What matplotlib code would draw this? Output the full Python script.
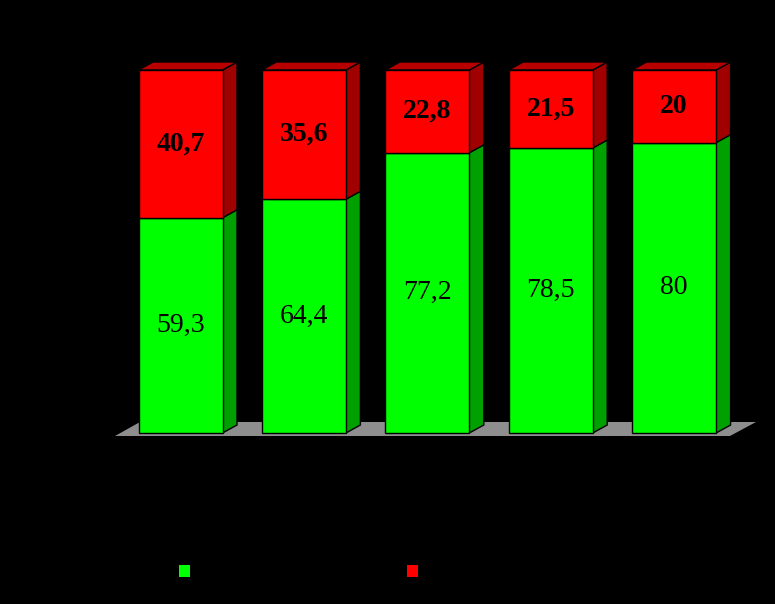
import numpy as np
import matplotlib.pyplot as plt
from matplotlib.patches import Polygon, Patch

plt.rcParams['font.family'] = ['Liberation Serif', 'DejaVu Serif']

# values per bar (percent)
green_vals = [59.3, 64.4, 77.2, 78.5, 80]
red_vals = [40.7, 35.6, 22.8, 21.5, 20]
green_txt = ['59,3', '64,4', '77,2', '78,5', '80']
red_txt = ['40,7', '35,6', '22,8', '21,5', '20']

GREEN = '#00FF00'
GREEN_SIDE = '#00A000'
RED = '#FF0000'
RED_SIDE = '#A00000'
RED_TOP = '#B80000'
FLOOR = '#8E8E8E'

W, H = 775, 604
fig = plt.figure(figsize=(W / 100, H / 100), dpi=100)
fig.patch.set_facecolor('black')
ax = fig.add_axes([0, 0, 1, 1])
ax.set_facecolor('black')
ax.axis('off')

# pixel geometry -> data limits
px_x = 123.4          # px per category
px_y = 3.63           # px per percent
x0_px, y0_px = 180.5, 433
ax.set_xlim(-x0_px / px_x, (W - x0_px) / px_x)
ax.set_ylim(-(H - y0_px) / px_y, y0_px / px_y)

dx = 14.5 / px_x
dy = 8 / px_y
bw = 84 / px_x
lw = 1.0
x = np.arange(len(green_vals))

# floor
fl = [(115 - x0_px) / px_x, (730 - x0_px) / px_x, (756 - x0_px) / px_x, (140 - x0_px) / px_x]
fy = [-3 / px_y, -3 / px_y, 11 / px_y, 11 / px_y]
ax.add_patch(Polygon(list(zip(fl, fy)), closed=True, facecolor=FLOOR, edgecolor='none', zorder=1))

ax.bar(x, green_vals, width=bw, color=GREEN, edgecolor='black', linewidth=lw, zorder=3)
ax.bar(x, red_vals, width=bw, bottom=green_vals, color=RED, edgecolor='black', linewidth=lw, zorder=3)

for i in range(len(x)):
    xr = x[i] + bw / 2
    xl = x[i] - bw / 2
    g = green_vals[i]
    top = g + red_vals[i]
    ax.add_patch(Polygon([(xr, 0), (xr + dx, dy), (xr + dx, g + dy), (xr, g)],
                         facecolor=GREEN_SIDE, edgecolor='black', linewidth=lw, zorder=2))
    ax.add_patch(Polygon([(xr, g), (xr + dx, g + dy), (xr + dx, top + dy), (xr, top)],
                         facecolor=RED_SIDE, edgecolor='black', linewidth=lw, zorder=2))
    ax.add_patch(Polygon([(xl, top), (xl + dx, top + dy), (xr + dx, top + dy), (xr, top)],
                         facecolor=RED_TOP, edgecolor='black', linewidth=lw, zorder=2))
    ax.text(x[i], g / 2, green_txt[i], ha='center', va='center', fontsize=20, color='black', zorder=4)
    ax.text(x[i], g + red_vals[i] / 2, red_txt[i], ha='center', va='center', fontsize=20,
            fontweight='bold', color='black', zorder=4)

# legend markers (labels are black on black in the original)
for col, xpos in [(GREEN, 179 / W), (RED, 407 / W)]:
    leg = fig.legend([Patch(facecolor=col, edgecolor='none')], [''], loc='center left',
                     bbox_to_anchor=(xpos, 1 - 573 / H), frameon=False, fontsize=14,
                     handlelength=0.57, handleheight=0.57, borderpad=0, borderaxespad=0,
                     handletextpad=0)
    fig.add_artist(leg)

fig.savefig('out.png', dpi=100, facecolor='black')
